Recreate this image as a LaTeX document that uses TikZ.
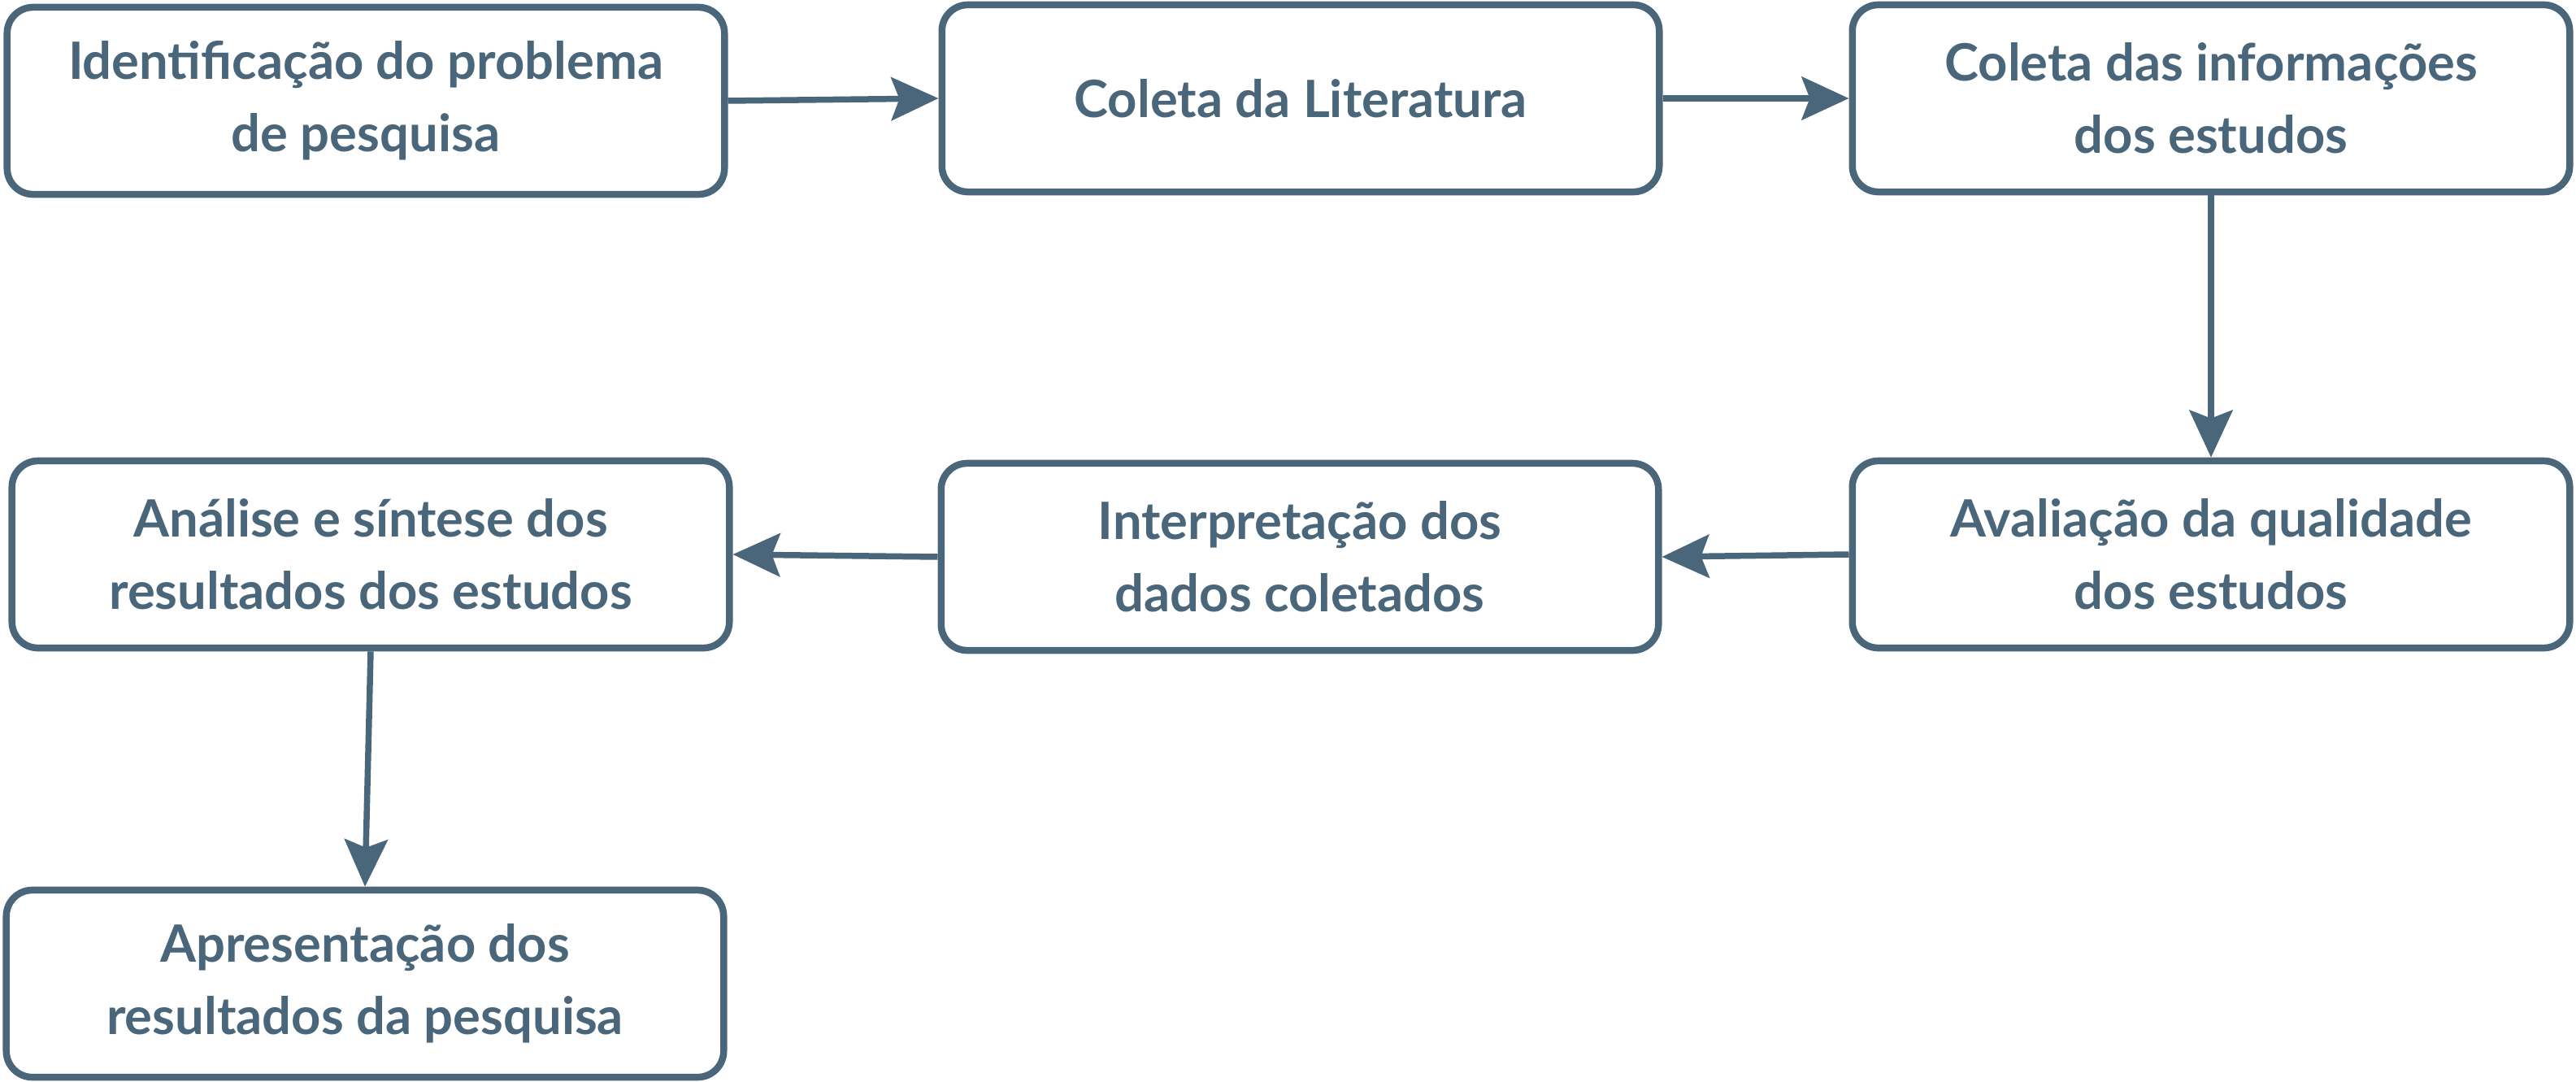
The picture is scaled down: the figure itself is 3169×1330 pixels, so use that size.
\documentclass[tikz,border=0pt]{standalone}
\usepackage{fontspec}
\setmainfont{Lato}
\usetikzlibrary{arrows.meta}
\definecolor{ink}{RGB}{74,102,122}
\tikzset{
  box/.style={draw=ink, line width=8.5*0.01cm, rounded corners=0.32cm, minimum width=8.82cm, minimum height=2.30cm,
    align=center, text=ink, font=\fontsize{18}{25.3}\selectfont\bfseries, inner sep=0pt, fill=white},
  flow/.style={draw=ink, line width=7.5*0.01cm, -{Stealth[length=0.58cm, width=0.53cm, inset=0.10cm]}}
}
\begin{document}
\begin{tikzpicture}[x=0.01cm, y=-0.01cm]
\useasboundingbox (0,0) rectangle (3169,1330);
\node[box] (b1) at (450,124) {Identificação do problema\\de pesquisa};
\node[box] (b2) at (1600,121) {Coleta da Literatura};
\node[box] (b3) at (2720,121) {Coleta das informações\\dos estudos};
\node[box] (b4) at (2720,682) {Avaliação da qualidade\\dos estudos};
\node[box] (b5) at (1599,685) {Interpretação dos\\dados coletados};
\node[box] (b6) at (456,682) {Análise e síntese dos\\resultados dos estudos};
\node[box] (b7) at (449,1210) {Apresentação dos\\resultados da pesquisa};
\draw[flow] (b1.east) -- (b2.west);
\draw[flow] (b2.east) -- (b3.west);
\draw[flow] (b3.south) -- (b4.north);
\draw[flow] (b4.west) -- (b5.east);
\draw[flow] (b5.west) -- (b6.east);
\draw[flow] (b6.south) -- (b7.north);
\end{tikzpicture}
\end{document}
